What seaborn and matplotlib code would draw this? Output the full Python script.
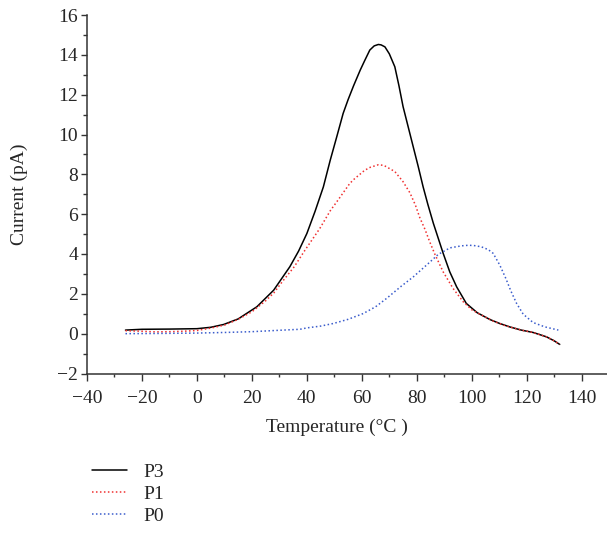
import numpy as np
import pandas as pd
import matplotlib
matplotlib.use("Agg")
import matplotlib.pyplot as plt
import seaborn as sns

# P3 (solid black)
p3_temp = [-26, -20, -10, 0, 5, 9.7, 15, 21.8, 27.9, 33.8, 37, 40, 43, 46, 48.5, 51,
           53.2, 55, 57, 59.4, 61, 62.9, 64.5, 66, 67, 68.4, 70, 72, 73.5, 75,
           78.7, 80.5, 82.3, 84, 86, 89.6, 92, 94.5, 98, 102, 106.6, 110, 113.8,
           118, 122.3, 125, 127.2, 130, 132]
p3_curr = [0.18, 0.22, 0.23, 0.25, 0.32, 0.46, 0.74, 1.35, 2.18, 3.36, 4.15, 5.03,
           6.15, 7.37, 8.71, 9.95, 11.06, 11.75, 12.45, 13.23, 13.7, 14.24, 14.45,
           14.52, 14.5, 14.4, 14.05, 13.4, 12.45, 11.4, 9.38, 8.4, 7.37, 6.5, 5.55,
           4.03, 3.1, 2.35, 1.52, 1.05, 0.71, 0.52, 0.34, 0.18, 0.06, -0.06, -0.16,
           -0.36, -0.54]

# P1 (red dotted)
p1_temp = [-26, -20, -15, -10, -5, 0, 5, 10, 15, 20, 25, 28, 31, 35.4, 39.3, 44.7,
           48.5, 51.5, 55.6, 57.2, 61, 63, 66, 68, 72, 75, 77.5, 79.5, 81.1, 83,
           84.7, 86.6, 89.6, 93.2, 96.9, 100, 104, 108, 112, 118, 122.3, 125,
           127.2, 130, 132]
p1_curr = [0.15, 0.12, 0.09, 0.1, 0.12, 0.16, 0.28, 0.43, 0.72, 1.1, 1.65, 2.05,
           2.6, 3.36, 4.19, 5.28, 6.17, 6.74, 7.54, 7.76, 8.2, 8.35, 8.48, 8.45,
           8.14, 7.63, 7.07, 6.45, 5.82, 5.23, 4.61, 3.98, 3.1, 2.27, 1.6, 1.2,
           0.9, 0.62, 0.41, 0.18, 0.06, -0.06, -0.16, -0.36, -0.54]

# P0 (blue dotted)
p0_temp = [-26, -15, 0, 10, 20, 30, 37.5, 40, 45, 49.6, 55, 60.5, 65, 69, 74.4,
           78.7, 84, 87.8, 92.1, 96.3, 98.9, 101, 103.5, 106, 107.8, 110.2, 112.4,
           114.2, 116.3, 118.7, 122.3, 126.6, 131.5]
p0_curr = [0.0, 0.01, 0.03, 0.06, 0.1, 0.17, 0.22, 0.29, 0.38, 0.51, 0.72, 1.01,
           1.35, 1.77, 2.39, 2.85, 3.5, 3.98, 4.31, 4.41, 4.44, 4.42, 4.36, 4.22,
           4.03, 3.44, 2.77, 2.15, 1.52, 0.98, 0.56, 0.34, 0.18]

sns.set_style("ticks")
plt.rcParams["font.family"] = ["Liberation Serif", "DejaVu Serif"]
FS = 14

fig = plt.figure(figsize=(6.07, 5.33), dpi=100)
ax = fig.add_axes([87 / 607, 1 - 373.5 / 533, 1 - 87 / 607, (373.5 - 15) / 533])

series = [
    ("P3", p3_temp, p3_curr, "black", "-"),
    ("P1", p1_temp, p1_curr, "#f03030", (0, (1, 1.6))),
    ("P0", p0_temp, p0_curr, "#3a5ccc", (0, (1, 1.6))),
]
for name, t, c, col, ls in series:
    df = pd.DataFrame({"Temperature": t, "Current": c})
    sns.lineplot(data=df, x="Temperature", y="Current", ax=ax, color=col,
                 linestyle=ls, linewidth=1.1, label=name, sort=False)

ax.set_xlim(-40, 149.2)
ax.set_ylim(-2, 16)
ax.set_xticks(np.arange(-40, 141, 20))
ax.set_xticks(np.arange(-30, 141, 20), minor=True)
ax.set_yticks(np.arange(-2, 17, 2))
ax.set_yticks(np.arange(-1, 16, 2), minor=True)
ax.tick_params(which="both", width=1, color="#333333", direction="out",
               labelsize=FS)
ax.tick_params(axis="x", which="major", length=5, pad=7)
ax.tick_params(axis="x", which="minor", length=2.5)
ax.tick_params(axis="y", which="major", length=4.3, pad=2)
ax.tick_params(axis="y", which="minor", length=3)
for s in ["top", "right"]:
    ax.spines[s].set_visible(False)
for s in ["left", "bottom"]:
    ax.spines[s].set_color("#333333")
    ax.spines[s].set_linewidth(1.1)

ax.set_xlabel("Temperature (°C )", fontsize=FS, va="top")
ax.set_ylabel("Current (pA)", fontsize=FS)
ax.xaxis.set_label_coords(0.48, -0.127)
ax.yaxis.set_label_coords(-0.113, 0.5)

ax.legend(loc="upper left", bbox_to_anchor=(92 / 607, 1 - 463 / 533),
          bbox_transform=fig.transFigure, frameon=False, fontsize=FS,
          handlelength=1.8, handletextpad=0.82, labelspacing=0.23,
          borderpad=0, borderaxespad=0)

fig.savefig("out.png", dpi=100)
